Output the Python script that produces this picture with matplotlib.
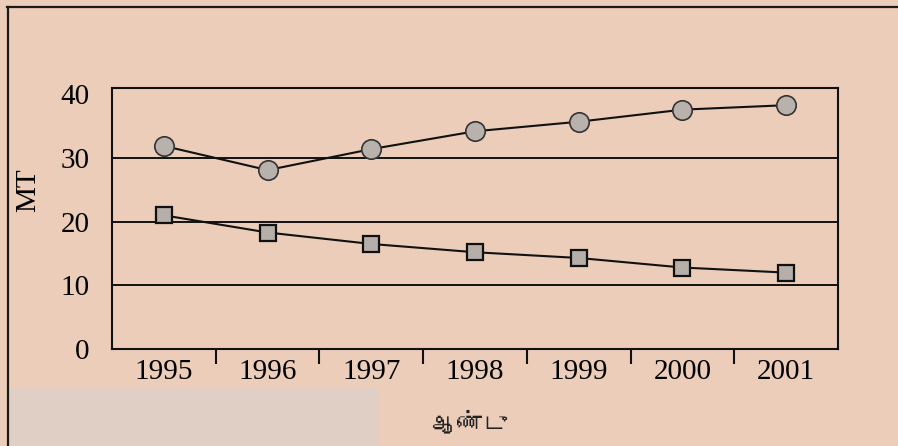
import matplotlib
matplotlib.use('Agg')
import matplotlib.pyplot as plt
from matplotlib import font_manager, ft2font
from matplotlib.lines import Line2D
from matplotlib.patches import Rectangle

years = [1995, 1996, 1997, 1998, 1999, 2000, 2001]
circle_series = [31.9, 28.1, 31.4, 34.2, 35.7, 37.6, 38.3]
square_series = [21.0, 18.3, 16.5, 15.2, 14.3, 12.8, 12.0]
y_ticks = [0, 10, 20, 30, 40]
x_label = 'ஆண்டு'
y_label = 'MT'

bg = '#ebcdb9'


def find_tamil_font():
    # look for any installed font that carries Tamil glyphs
    for f in font_manager.fontManager.ttflist:
        try:
            cm = ft2font.FT2Font(f.fname).get_charmap()
        except Exception:
            continue
        if 0x0B86 in cm and 0x0BA3 in cm:
            return f.name
    return 'DejaVu Sans'


tamil = find_tamil_font()

plt.rcParams['font.family'] = ['Liberation Serif', 'DejaVu Serif']

fig = plt.figure(figsize=(8.98, 4.46), dpi=100, facecolor=bg)

# greyish paper patch at the bottom left and the outer frame of the scan
fig.patches.append(Rectangle((10 / 898, 0), 368 / 898, 58 / 446,
                             transform=fig.transFigure, facecolor='#e0cfc4',
                             edgecolor='none', zorder=0))
fig.lines.append(Line2D([7 / 898, 1], [1 - 7 / 446, 1 - 7 / 446],
                        transform=fig.transFigure, color='#1a1a1a', lw=1.6))
fig.lines.append(Line2D([8 / 898, 8 / 898], [0, 1 - 7 / 446],
                        transform=fig.transFigure, color='#1a1a1a', lw=1.6))

ax = fig.add_axes([112 / 898, 97 / 446, 726 / 898, 261 / 446])
ax.set_facecolor(bg)

for v in y_ticks[1:-1]:
    ax.axhline(v, color='#111111', lw=1.4, zorder=1)

ax.plot(years, circle_series, color='#111111', lw=1.5, marker='o',
        markersize=14, markerfacecolor='#b9b1ab', markeredgecolor='#333333',
        markeredgewidth=1.2, zorder=3)
ax.plot(years, square_series, color='#111111', lw=1.5, marker='s',
        markersize=12, markerfacecolor='#b5aea9', markeredgecolor='#111111',
        markeredgewidth=1.6, zorder=3)

ax.set_xlim(years[0] - 0.5, years[-1] + 0.5)
ax.set_ylim(0, 41)

ax.set_xticks(years)
ax.set_xticklabels([str(y) for y in years], fontsize=21)
ax.set_xticks([y + 0.5 for y in years[:-1]], minor=True)
ax.tick_params(axis='x', which='major', length=0, pad=7)
ax.tick_params(axis='x', which='minor', length=11, width=1.5,
               direction='out', color='#111111')

ax.set_yticks(y_ticks)
ax.set_yticklabels([str(v) for v in y_ticks], fontsize=21)
ax.tick_params(axis='y', length=0, pad=16)

for s in ax.spines.values():
    s.set_color('#111111')
    s.set_linewidth(1.5)

ax.set_ylabel(y_label, fontsize=21, va='center')
ax.yaxis.set_label_coords((28 - 112) / 726, (349 - 190) / 261)
ax.set_xlabel(x_label, fontsize=18, family=[tamil, 'DejaVu Sans'],
              color='#222222')
ax.xaxis.set_label_coords((470 - 112) / 726, -(423 - 349) / 261)
ax.xaxis.label.set_va('center')

fig.savefig('out.png', dpi=100, facecolor=bg)
